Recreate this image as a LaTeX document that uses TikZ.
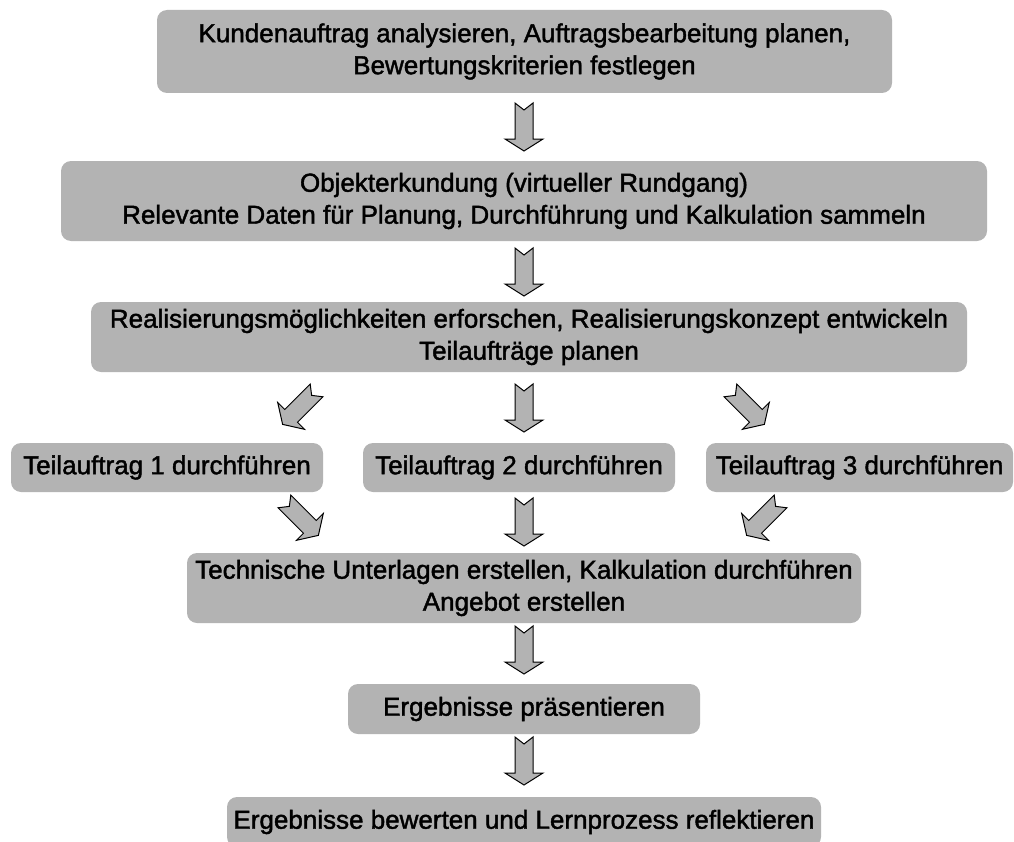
\documentclass[tikz,border=0pt]{standalone}
\usepackage{fontspec}
\setmainfont{Liberation Sans}[FakeBold=1.6]

\definecolor{boxgray}{RGB}{179,179,179}

\tikzset{
  box/.style={fill=boxgray, rounded corners=7.5pt, align=center, inner sep=0pt,
    font=\fontsize{19.5}{24}\selectfont},
  pics/flowarrow/.style={code={
    \filldraw[fill=boxgray, draw=black, line width=0.75pt]
      (-24,-9) -- (12,-9) -- (12,-19) -- (24,0) -- (12,19) -- (12,9) -- (-24,9) -- (-17,0) -- cycle;
  }}
}

\begin{document}
\begin{tikzpicture}[x=0.75pt, y=-0.75pt]
\useasboundingbox (0,0) rectangle (1014,842);
\clip (0,0) rectangle (1014,842);

% boxes
\node[box, minimum width=551.25pt, minimum height=62.25pt] (k1) at (524.5,51.5)
  {Kundenauftrag analysieren, Auftragsbearbeitung planen,\\ Bewertungskriterien festlegen};
\node[box, minimum width=694.5pt, minimum height=60pt] (k2) at (524,201)
  {Objekterkundung (virtueller Rundgang)\\ Relevante Daten für Planung, Durchführung und Kalkulation sammeln};
\node[box, minimum width=657pt, minimum height=52.5pt] (k3) at (529,337)
  {Realisierungsmöglichkeiten erforschen, Realisierungskonzept entwickeln\\ Teilaufträge planen};

\node[box, minimum width=234pt, minimum height=36.75pt] (t1) at (167,467.5) {Teilauftrag 1 durchführen};
\node[box, minimum width=234pt, minimum height=36.75pt] (t2) at (519,467.5) {Teilauftrag 2 durchführen};
\node[box, minimum width=230.25pt, minimum height=36.75pt] (t3) at (859.5,467.5) {Teilauftrag 3 durchführen};

\node[box, minimum width=505.5pt, minimum height=52.5pt] (k4) at (524,588)
  {Technische Unterlagen erstellen, Kalkulation durchführen\\ Angebot erstellen};
\node[box, minimum width=264pt, minimum height=37.5pt] (k5) at (524,709) {Ergebnisse präsentieren};
\node[box, minimum width=445.5pt, minimum height=37.5pt] (k6) at (524,822)
  {Ergebnisse bewerten und Lernprozess reflektieren};

% arrows
\pic[rotate=-90] at (524,127) {flowarrow};
\pic[rotate=-90] at (524,272) {flowarrow};
\pic[rotate=-135] at (299.6,407.4) {flowarrow};
\pic[rotate=-90] at (524,408) {flowarrow};
\pic[rotate=-45] at (747.4,407.4) {flowarrow};
\pic[rotate=-45] at (301.4,518.4) {flowarrow};
\pic[rotate=-90] at (524,522) {flowarrow};
\pic[rotate=-135] at (763.6,518.4) {flowarrow};
\pic[rotate=-90] at (524,650) {flowarrow};
\pic[rotate=-90] at (524,761) {flowarrow};
\end{tikzpicture}
\end{document}
